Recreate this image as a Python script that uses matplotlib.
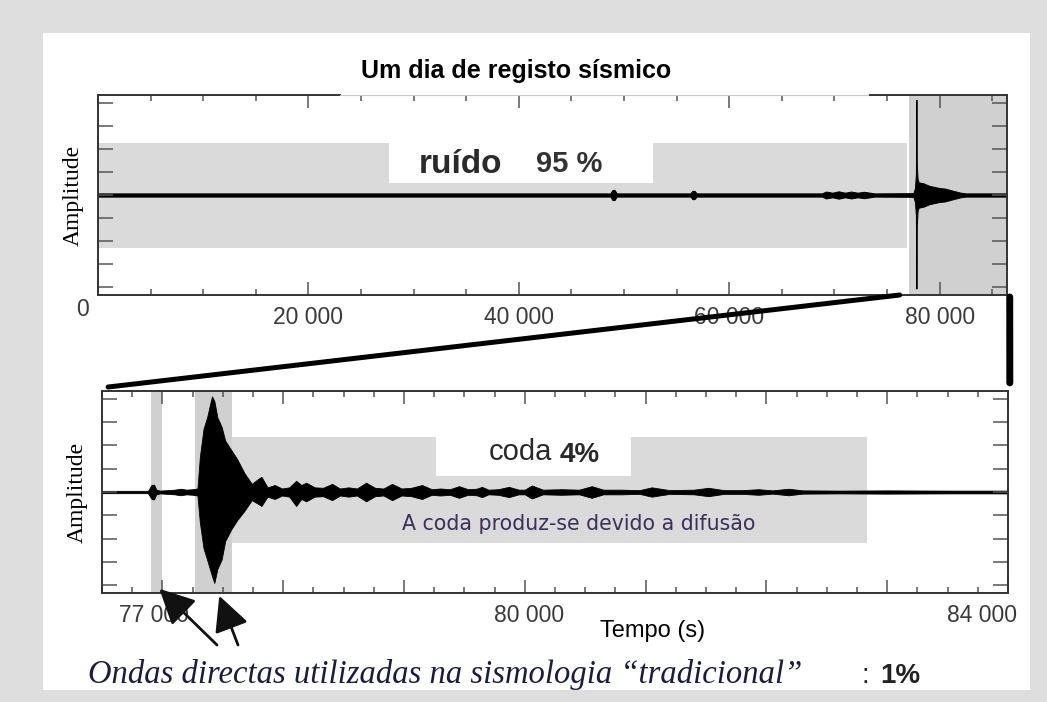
import matplotlib
matplotlib.use('Agg')
import matplotlib.pyplot as plt
from matplotlib.patches import Rectangle, ConnectionPatch
from matplotlib.ticker import MultipleLocator, FixedLocator, FixedFormatter
from matplotlib.transforms import ScaledTranslation

# --- one day of record: time (s) and upper / lower envelope of the trace ---
day_t = [0, 48700, 48900, 49100, 49300, 56300, 56500, 56700, 56900, 68800,
         69200, 69800, 70400, 71000, 71600, 72200, 72800, 73400, 73800, 77500,
         77650, 77740, 77790, 77830, 77900, 78000, 78500, 79000, 80000, 80500,
         81300, 82000, 82500, 86400]
day_up = [0.07, 0.07, 0.22, 0.22, 0.07, 0.07, 0.18, 0.18, 0.07, 0.07,
          0.15, 0.1, 0.16, 0.1, 0.15, 0.1, 0.14, 0.1, 0.07, 0.08,
          0.3, 0.9, 4.13, 1.3, 0.7, 0.55, 0.5, 0.4, 0.3, 0.28,
          0.18, 0.1, 0.07, 0.07]
day_dn = [0.07, 0.07, 0.22, 0.22, 0.07, 0.07, 0.18, 0.18, 0.07, 0.07,
          0.15, 0.1, 0.16, 0.1, 0.15, 0.1, 0.14, 0.1, 0.07, 0.08,
          0.3, 0.9, 4.05, 1.3, 0.7, 0.55, 0.5, 0.4, 0.3, 0.28,
          0.18, 0.1, 0.07, 0.07]

# --- zoom on the earthquake ---
eq_t = [76500, 76880, 76910, 76930, 76950, 76980, 77100, 77150, 77200, 77250,
        77290, 77310, 77340, 77370, 77410, 77430, 77455, 77490, 77520, 77570,
        77620, 77680, 77740, 77790, 77820, 77870, 77930, 77990, 78050, 78107,
        78150, 78190, 78260, 78330, 78405, 78470, 78540, 78610, 78686, 78760,
        78830, 78901, 78980, 79060, 79149, 79230, 79300, 79380, 79455, 79530,
        79600, 79645, 79700, 79780, 79868, 79950, 80000, 80058, 80150, 80300,
        80450, 80554, 80650, 80800, 80950, 81050, 81200, 81400, 81521, 81650,
        81800, 81934, 82050, 82182, 82300, 82600, 83000, 83500, 84000]
eq_up = [0.05, 0.05, 0.3, 0.32, 0.1, 0.06, 0.1, 0.14, 0.1, 0.12,
         0.15, 1.5, 2.7, 3.2, 4.1, 3.9, 3.2, 2.8, 2.2, 1.8,
         1.4, 0.8, 0.35, 0.55, 0.65, 0.2, 0.3, 0.15, 0.2, 0.48,
         0.3, 0.4, 0.2, 0.18, 0.35, 0.15, 0.2, 0.15, 0.4, 0.18,
         0.15, 0.35, 0.15, 0.18, 0.3, 0.12, 0.15, 0.12, 0.25, 0.12,
         0.14, 0.22, 0.1, 0.12, 0.22, 0.1, 0.1, 0.28, 0.1, 0.12,
         0.1, 0.25, 0.1, 0.1, 0.08, 0.2, 0.08, 0.1, 0.18, 0.08,
         0.08, 0.12, 0.07, 0.14, 0.07, 0.06, 0.07, 0.06, 0.06]
eq_dn = [0.05, 0.05, 0.3, 0.32, 0.1, 0.06, 0.1, 0.14, 0.1, 0.12,
         0.15, 1.3, 2.4, 2.9, 3.6, 3.9, 3.3, 2.9, 2.1, 1.6,
         1.2, 0.8, 0.35, 0.5, 0.6, 0.2, 0.3, 0.15, 0.2, 0.6,
         0.3, 0.4, 0.2, 0.18, 0.35, 0.15, 0.2, 0.15, 0.4, 0.18,
         0.15, 0.35, 0.15, 0.18, 0.3, 0.12, 0.15, 0.12, 0.25, 0.12,
         0.14, 0.22, 0.1, 0.12, 0.22, 0.1, 0.1, 0.28, 0.1, 0.12,
         0.1, 0.25, 0.1, 0.1, 0.08, 0.2, 0.08, 0.1, 0.18, 0.08,
         0.08, 0.12, 0.07, 0.14, 0.07, 0.06, 0.07, 0.06, 0.06]

day_ticks = [0, 20000, 40000, 60000, 80000]
day_labels = ['0', '20 000', '40 000', '60 000', '80 000']
eq_ticks = [77000, 78000, 79000, 80000, 81000, 82000, 83000, 84000]
eq_labels = ['77 000', '', '', '80 000', '', '', '', '84 000']

# shaded windows (time start, time end)
noise_win = (0, 76860)
noise_hole = (27620, 52760)
event_win = (77100, 86400)
p_win = (76905, 77000)
s_win = (77270, 77575)
coda_win = (77575, 82835)
coda_hole = (79264, 80876)

W, H = 1047, 702
SANS = 'Liberation Sans'
SERIF = 'Liberation Serif'


def box(x0, y0, x1, y1):
    return [x0 / W, 1 - y1 / H, (x1 - x0) / W, (y1 - y0) / H]


fig = plt.figure(figsize=(W / 100, H / 100), dpi=100, facecolor='#dedede')
fig.add_artist(Rectangle((43 / W, 1 - 690 / H), (1030 - 43) / W, (690 - 33) / H,
                         transform=fig.transFigure, facecolor='white',
                         edgecolor='none', zorder=0))

ax1 = fig.add_axes(box(98, 95, 1007, 295))
ax2 = fig.add_axes(box(102, 391, 1008, 593))

for ax in (ax1, ax2):
    ax.set_ylim(-4.33, 4.33)
    ax.yaxis.set_major_locator(MultipleLocator(1))
    ax.tick_params(which='both', direction='in', top=True, right=True,
                   labelleft=False, color='#555555', width=1.1,
                   labelsize=16.5, labelcolor='#3a3a3a', pad=8)
    ax.tick_params(which='major', length=9.5)
    ax.tick_params(which='minor', length=4.5)
    ax.tick_params(axis='y', length=11)
    for s in ax.spines.values():
        s.set_color('#333333')
        s.set_linewidth(1.4)
    for lab in ax.get_xticklabels():
        lab.set_family(SANS)
    ax.set_ylabel('Amplitude', family=SERIF, fontsize=17, va='center')
    ax.yaxis.set_label_coords(-0.027, 0.5)

# top panel: whole day
ax1.set_xlim(0, 86400)
ax1.xaxis.set_major_locator(FixedLocator(day_ticks))
ax1.xaxis.set_major_formatter(FixedFormatter(day_labels))
ax1.xaxis.set_minor_locator(MultipleLocator(5000))
ax1.fill_between(noise_win, -2.3, 2.26, color='#dadada', lw=0)
ax1.fill_between(noise_hole, 0.52, 2.26, color='white', lw=0)
ax1.axvspan(*event_win, color='#d0d0d0', lw=0)
ax1.fill_between(day_t, [-v for v in day_dn], day_up, color='black', lw=0.7)

# top spine interrupted under the title
ax1.spines['top'].set_visible(False)
ax1.plot([0, 0.266], [1, 1], transform=ax1.transAxes, color='#333333', lw=1.4, clip_on=False)
ax1.plot([0.266, 0.849], [1, 1], transform=ax1.transAxes, color='#c8c8c8', lw=0.8, clip_on=False)
ax1.plot([0.849, 1], [1, 1], transform=ax1.transAxes, color='#333333', lw=1.4, clip_on=False)

ax1.text(30476, 0.95, 'ruído', family=SANS, fontsize=24, weight='bold', color='#2a2a2a')
ax1.text(41619, 1.0, '95 %', family=SANS, fontsize=21, weight='bold', color='#333333')

# bottom panel: the earthquake
ax2.set_xlim(76500, 84000)
ax2.xaxis.set_major_locator(FixedLocator(eq_ticks))
ax2.xaxis.set_major_formatter(FixedFormatter(eq_labels))
ax2.xaxis.set_minor_locator(MultipleLocator(250))
ax2.axvspan(*p_win, color='#d0d0d0', lw=0)
ax2.axvspan(*s_win, color='#d0d0d0', lw=0)
ax2.fill_between(coda_win, -2.19, 2.36, color='#dadada', lw=0)
ax2.fill_between(coda_hole, 0.69, 2.36, color='white', lw=0)
ax2.fill_between(eq_t, [-v for v in eq_dn], eq_up, color='black', lw=0.6)

ax2.text(79702, 1.37, 'coda', family=SANS, fontsize=21, color='#2a2a2a')
ax2.text(80289, 1.29, '4%', family=SANS, fontsize=20, weight='bold', color='#2a2a2a')
ax2.text(80446, -1.63, 'A coda produz-se devido a difusão', family='DejaVu Sans',
         fontsize=14.8, color='#3b2f5c', ha='center')

# nudge a few tick labels
for ax, shifts in ((ax1, {0: (-11.5, 5.8)}), (ax2, {0: (-6, 0), 3: (3, 0), 7: (-19, 0)})):
    labs = ax.get_xticklabels()
    for i, (dx, dy) in shifts.items():
        labs[i].set_transform(labs[i].get_transform() +
                              ScaledTranslation(dx / 72, dy / 72, fig.dpi_scale_trans))

# zoom connectors
con = ConnectionPatch(xyA=(76200, -4.33), coordsA=ax1.transData,
                      xyB=(76550, 4.5), coordsB=ax2.transData,
                      color='black', lw=3.6)
fig.add_artist(con)
con2 = ConnectionPatch(xyA=(1.003, -0.01), coordsA=ax1.transAxes,
                       xyB=(1.002, 1.04), coordsB=ax2.transAxes,
                       color='black', lw=5)
fig.add_artist(con2)

# arrows toward the direct waves
for tip, tail in (((76975, -4.15), (217, 645)), ((77471, -4.45), (238, 645))):
    ax2.annotate('', xy=tip, xycoords='data',
                 xytext=(tail[0] / W, 1 - tail[1] / H), textcoords='figure fraction',
                 arrowprops=dict(arrowstyle='-|>,head_length=0.9,head_width=0.45',
                                 color='#111111', lw=2, mutation_scale=24,
                                 shrinkA=0, shrinkB=0),
                 annotation_clip=False)

fig.text(516 / W, 1 - 78 / H, 'Um dia de registo sísmico', family=SANS,
         fontsize=18, weight='bold', ha='center', va='baseline')
fig.text(600 / W, 1 - 637 / H, 'Tempo (s)', family=SANS, fontsize=17, va='baseline')
fig.text(88 / W, 1 - 683 / H, 'Ondas directas utilizadas na sismologia \u201ctradicional\u201d',
         family=SERIF, style='italic', fontsize=23.5, color='#1c1c3c', va='baseline')
fig.text(862 / W, 1 - 683 / H, ':', family=SANS, fontsize=20, color='#222222', va='baseline')
fig.text(880 / W, 1 - 683 / H, '1%', family=SANS, fontsize=20, weight='bold',
         color='#222222', va='baseline')

fig.savefig('out.png', dpi=100, facecolor=fig.get_facecolor())
